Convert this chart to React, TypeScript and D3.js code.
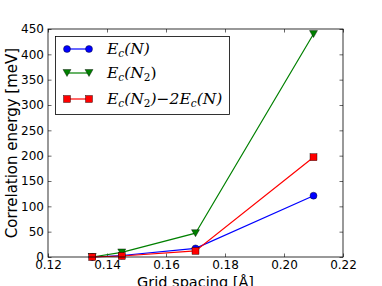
import React, { useEffect, useRef } from 'react'
import * as d3 from 'd3'

const spacing = [0.135, 0.145, 0.17, 0.21]
const ecN = [0, 3, 17, 121]
const ecN2 = [0, 9, 47, 440]
const ecDiff = [0, 2, 12, 197]
const xTicks = [0.12, 0.14, 0.16, 0.18, 0.2, 0.22]
const yTicks = [0, 50, 100, 150, 200, 250, 300, 350, 400, 450]

const series = [
  { values: ecN, color: '#0000ff', marker: 'circle', label: ['E', 'c', '(N)'] },
  { values: ecN2, color: '#008000', marker: 'triangle', label: ['E', 'c', '(N', '2', ')'] },
  { values: ecDiff, color: '#ff0000', marker: 'square', label: ['E', 'c', '(N', '2', ')−2E', 'c', '(N)'] },
]

const W = 382
const H = 286
const margin = { top: 29, right: 39, bottom: 29, left: 48 }

const App = () => {
  const ref = useRef<SVGSVGElement>(null)

  useEffect(() => {
    const svg = d3.select(ref.current)
    svg.selectAll('*').remove()
    const width = W - margin.left - margin.right
    const height = H - margin.top - margin.bottom

    const x = d3.scaleLinear().domain([0.12, 0.22]).range([0, width])
    const y = d3.scaleLinear().domain([0, 450]).range([height, 0])

    const g = svg.append('g').attr('transform', `translate(${margin.left},${margin.top})`)

    const font = 'DejaVu Sans, sans-serif'

    // ticks on all four sides, pointing inward
    const axB = g.append('g').attr('transform', `translate(0,${height})`)
      .call(d3.axisBottom(x).tickValues(xTicks).tickFormat(d3.format('.2f')).tickSizeInner(-3.5).tickSizeOuter(0).tickPadding(3))
    const axT = g.append('g')
      .call(d3.axisTop(x).tickValues(xTicks).tickFormat(() => '').tickSizeInner(-3.5).tickSizeOuter(0))
    const axL = g.append('g')
      .call(d3.axisLeft(y).tickValues(yTicks).tickFormat(d3.format('d')).tickSizeInner(-3.5).tickSizeOuter(0).tickPadding(4))
    const axR = g.append('g').attr('transform', `translate(${width},0)`)
      .call(d3.axisRight(y).tickValues(yTicks).tickFormat(() => '').tickSizeInner(-3.5).tickSizeOuter(0))
    ;[axB, axT, axL, axR].forEach(a => {
      a.select('.domain').remove()
      a.selectAll('line').attr('stroke', '#000').attr('stroke-width', 0.6)
      a.selectAll('text').attr('font-family', font).attr('font-size', 12).attr('fill', '#000')
    })

    const line = d3.line<number>()
      .x((d, i) => x(spacing[i]))
      .y(d => y(d))

    const drawMarker = (sel, type, color, cx, cy) => {
      if (type === 'circle') {
        sel.append('circle').attr('cx', cx).attr('cy', cy).attr('r', 3.5)
          .attr('fill', color).attr('stroke', '#000').attr('stroke-width', 0.4)
      } else if (type === 'triangle') {
        sel.append('path').attr('d', `M${cx - 4},${cy - 3.5}L${cx + 4},${cy - 3.5}L${cx},${cy + 3.5}Z`)
          .attr('fill', color).attr('stroke', '#000').attr('stroke-width', 0.4)
      } else {
        sel.append('rect').attr('x', cx - 3.5).attr('y', cy - 3.5).attr('width', 7).attr('height', 7)
          .attr('fill', color).attr('stroke', '#000').attr('stroke-width', 0.4)
      }
    }

    const marks = g.append('g')
    series.forEach(s => {
      marks.append('path').datum(s.values).attr('d', line)
        .attr('fill', 'none').attr('stroke', s.color).attr('stroke-width', 1.2)
      s.values.forEach((v, i) => drawMarker(marks, s.marker, s.color, x(spacing[i]), y(v)))
    })

    // frame
    g.append('rect').attr('width', width).attr('height', height)
      .attr('fill', 'none').attr('stroke', '#000').attr('stroke-width', 0.8)

    // legend
    const lg = svg.append('g')
    lg.append('rect').attr('x', 55.5).attr('y', 36.5).attr('width', 174).attr('height', 78)
      .attr('fill', '#fff').attr('stroke', '#000').attr('stroke-width', 0.8)
    const rows = [49, 73, 99]
    series.forEach((s, i) => {
      const ry = rows[i]
      lg.append('line').attr('x1', 67).attr('x2', 89).attr('y1', ry).attr('y2', ry)
        .attr('stroke', s.color).attr('stroke-width', 1.2)
      drawMarker(lg, s.marker, s.color, 67, ry)
      drawMarker(lg, s.marker, s.color, 89, ry)
      const t = lg.append('text').attr('x', 107).attr('y', ry + 5)
        .attr('font-family', 'DejaVu Serif, serif').attr('font-size', 15.5).attr('fill', '#000')
      s.label.forEach((part, k) => {
        const isSub = part === 'c' || part === '2'
        const ts = t.append('tspan').text(part)
        if (isSub) {
          ts.attr('font-size', 10.5).attr('dy', 3)
        } else if (k > 0) {
          ts.attr('dy', -3)
        }
        if (part === 'E' || part === 'c' || part.includes('N') || part.includes('E')) {
          ts.attr('font-style', 'italic')
        }
      })
    })

    // axis labels
    svg.append('text').attr('x', margin.left + width / 2).attr('y', 287)
      .attr('text-anchor', 'middle').attr('font-family', font).attr('font-size', 14.5)
      .text('Grid spacing [Å]')
    svg.append('text').attr('transform', `translate(17,${margin.top + height / 2}) rotate(-90)`)
      .attr('text-anchor', 'middle').attr('font-family', font).attr('font-size', 15)
      .text('Correlation energy [meV]')
  }, [])

  return (
    <svg ref={ref} width={W} height={H} style={{ display: 'block', position: 'absolute', left: 0, top: 0 }} />
  )
}

export default App
